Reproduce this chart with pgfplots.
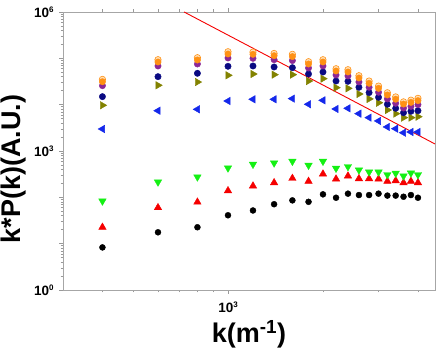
\documentclass[border=0pt]{standalone}
\usepackage{fontspec}
\setmainfont{Liberation Sans}
\usepackage{pgfplots}
\pgfplotsset{compat=1.18}

\newcommand{\tl}[1]{\textbf{10}\raisebox{0.75ex}{\fontsize{8}{8}\selectfont\textbf{#1}}}

\definecolor{cBlue}{RGB}{20,40,235}
\definecolor{cGreen}{RGB}{20,240,20}
\definecolor{cRed}{RGB}{245,0,0}
\definecolor{cOlive}{RGB}{130,130,0}
\definecolor{cNavy}{RGB}{10,10,130}
\definecolor{cPurple}{RGB}{140,40,150}
\definecolor{cOrange}{RGB}{255,145,20}
\definecolor{cPeach}{RGB}{255,225,185}

\begin{document}
\begin{tikzpicture}
\useasboundingbox (-63pt,-60pt) rectangle (373pt,290pt);
\begin{axis}[
    scale only axis,
    width=372pt, height=278pt,
    xmode=log, ymode=log,
    xmin=300, xmax=4530,
    ymin=1, ymax=1e6,
    axis line style={gray!70, line width=0.8pt},
    tick style={gray!80, line width=0.6pt},
    tick align=outside,
    major tick length=4pt,
    minor tick length=2.5pt,
    xtick={1000},
    xticklabels={\tl{3}},
    minor xtick={400,500,600,700,800,900,2000,3000,4000},
    ytick={1,10,100,1000,10000,100000,1000000},
    yticklabels={\tl{0},,,\tl{3},,,\tl{6}},
    ticklabel style={font=\fontsize{13.5}{14}\selectfont},
    xticklabel style={yshift=-4pt},
    yticklabel style={xshift=-2pt},
    xlabel={\textbf{k(m\textsuperscript{-1})}},
    ylabel={\textbf{k*P(k)(A.U.)}},
    label style={font=\fontsize{27}{28}\selectfont},
    xlabel style={at={(axis description cs:0.5,-0.19)}, anchor=base},
    ylabel style={at={(axis description cs:-0.1317,0.435)}, anchor=center},
    clip=true,
]

% red reference line
\addplot[cRed, line width=0.9pt] coordinates {(726,1e6) (4530,1417)};

% black circles
\addplot[only marks, mark=*, mark size=3pt, black] coordinates {
(400,8.3) (600,17.6) (800,22.6) (1000,41) (1200,52) (1400,71) (1600,86)
(1800,80) (2000,116) (2200,98) (2400,120) (2600,112) (2800,112) (3000,120)
(3200,109) (3400,109) (3600,103) (3800,112) (4000,98)};

% red up triangles
\addplot[only marks, mark=triangle*, mark size=4.3pt, cRed] coordinates {
(400,22.6) (600,60) (800,79) (1000,139) (1200,176) (1400,207) (1600,257)
(1800,222) (2000,319) (2200,249) (2400,289) (2600,253) (2800,253) (3000,249)
(3200,222) (3400,229) (3600,207) (3800,222) (4000,207)};

% green down triangles
\addplot[only marks, mark=triangle*, mark options={rotate=180}, mark size=4.3pt, cGreen] coordinates {
(400,83) (600,214) (800,275) (1000,430) (1200,517) (1400,551) (1600,599)
(1800,491) (2000,599) (2200,423) (2400,459) (2600,389) (2800,352) (3000,352)
(3200,308) (3400,330) (3600,289) (3800,335) (4000,308)};

% blue left triangles
\addplot[only marks, mark=triangle*, mark options={rotate=90}, mark size=4.3pt, cBlue] coordinates {
(400,2985) (600,7400) (800,7940) (1000,12000) (1200,13060) (1400,13060) (1600,13500)
(1800,10200) (2000,12400) (2200,8070) (2400,8340) (2600,6400) (2800,5250) (3000,4450)
(3200,3300) (3400,3030) (3600,2480) (3800,2570) (4000,2570)};

% olive right triangles
\addplot[only marks, mark=triangle*, mark options={rotate=-90}, mark size=4.3pt, cOlive] coordinates {
(400,9700) (600,26200) (800,30800) (1000,43000) (1200,45900) (1400,44400) (1600,44400)
(1800,32400) (2000,36400) (2200,23300) (2400,22500) (2600,17000) (2800,13300) (3000,11000)
(3200,7670) (3400,6400) (3600,5250) (3800,5250) (4000,5500)};

% navy circles
\addplot[only marks, mark=*, mark size=3.2pt, cNavy] coordinates {
(400,14900) (600,40200) (800,47500) (1000,67300) (1200,68400) (1400,65000) (1600,62800)
(1800,45900) (2000,50700) (2200,32400) (2400,31900) (2600,23700) (2800,18200) (3000,14400)
(3200,10200) (3400,8340) (3600,6710) (3800,7190) (4000,7400)};

% purple circles
\addplot[only marks, mark=*, mark size=3.2pt, cPurple] coordinates {
(400,25700) (600,68400) (800,75500) (1000,101700) (1200,100000) (1400,93500) (1600,89400)
(1800,61900) (2000,68400) (2200,43700) (2400,41600) (2600,30900) (2800,23700) (3000,18500)
(3200,13300) (3400,10700) (3600,8450) (3800,9180) (4000,10000)};

% open peach circles
\addplot[only marks, mark=*, mark size=3.2pt, draw=cOrange, fill=cPeach, mark options={draw=cOrange, fill=cPeach, line width=0.6pt}] coordinates {
(400,35100) (600,93400) (800,103200) (1000,138900) (1200,136600) (1400,127700) (1600,122100)
(1800,84600) (2000,93400) (2200,59700) (2400,56800) (2600,42200) (2800,32400) (3000,25200)
(3200,18100) (3400,14700) (3600,11500) (3800,12500) (4000,13700)};

% orange circles
\addplot[only marks, mark=*, mark size=3.2pt, cOrange] coordinates {
(400,31300) (600,83400) (800,92100) (1000,124000) (1200,122000) (1400,114000) (1600,109000)
(1800,75500) (2000,83400) (2200,53300) (2400,50700) (2600,37700) (2800,28900) (3000,22500)
(3200,16200) (3400,13100) (3600,10300) (3800,11200) (4000,12200)};

\end{axis}
\end{tikzpicture}
\end{document}
